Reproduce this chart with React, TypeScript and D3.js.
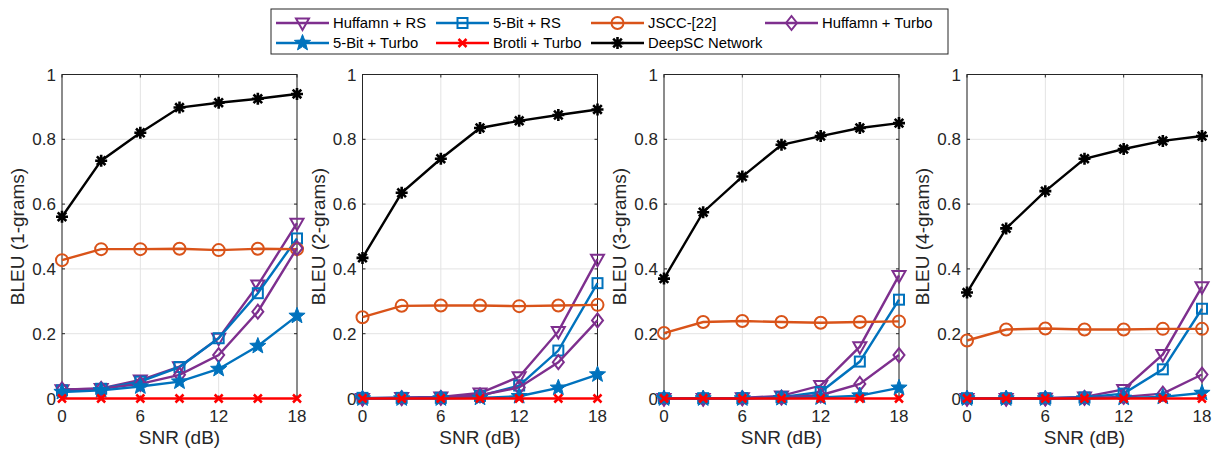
import React from "react";
import * as d3 from "d3";

const snr = [0, 3, 6, 9, 12, 15, 18];
const xTicks = [0, 6, 12, 18];
const yTicks = [0, 0.2, 0.4, 0.6, 0.8, 1];
const yLabels = ["BLEU (1-grams)", "BLEU (2-grams)", "BLEU (3-grams)", "BLEU (4-grams)"];

const seriesNames = ["Huffamn + RS", "5-Bit + RS", "JSCC-[22]", "Huffamn + Turbo", "5-Bit + Turbo", "Brotli + Turbo", "DeepSC Network"];
const seriesColors = ["#7E2F8E", "#0072BD", "#D95319", "#7E2F8E", "#0072BD", "#FF0000", "#000000"];
const seriesMarkers = ["triDown", "square", "circle", "diamond", "star", "x", "asterisk"];

// values per panel: [HuffRS, 5bitRS, JSCC, HuffTurbo, 5bitTurbo, Brotli, DeepSC]
const huffRS = [
  [0.027, 0.031, 0.057, 0.098, 0.186, 0.35, 0.541],
  [0.0, 0.003, 0.005, 0.017, 0.067, 0.207, 0.43],
  [0.0, 0.0, 0.002, 0.008, 0.04, 0.16, 0.38],
  [0.0, 0.0, 0.001, 0.005, 0.028, 0.136, 0.345],
];
const bitRS = [
  [0.025, 0.03, 0.052, 0.097, 0.186, 0.325, 0.494],
  [0.002, 0.002, 0.002, 0.008, 0.04, 0.148, 0.356],
  [0.001, 0.001, 0.001, 0.004, 0.02, 0.114, 0.305],
  [0.001, 0.001, 0.001, 0.003, 0.015, 0.09, 0.277],
];
const jscc = [
  [0.427, 0.461, 0.461, 0.462, 0.458, 0.462, 0.461],
  [0.251, 0.286, 0.287, 0.287, 0.285, 0.287, 0.289],
  [0.202, 0.236, 0.239, 0.236, 0.234, 0.236, 0.238],
  [0.179, 0.213, 0.216, 0.213, 0.213, 0.215, 0.215],
];
const huffTurbo = [
  [0.028, 0.03, 0.045, 0.073, 0.134, 0.268, 0.464],
  [0.0, 0.001, 0.002, 0.01, 0.034, 0.112, 0.241],
  [0.0, 0.0, 0.001, 0.003, 0.01, 0.045, 0.134],
  [0.0, 0.0, 0.0, 0.002, 0.005, 0.015, 0.074],
];
const bitTurbo = [
  [0.02, 0.025, 0.037, 0.052, 0.091, 0.162, 0.255],
  [0.0, 0.0, 0.0, 0.002, 0.007, 0.033, 0.074],
  [0.0, 0.0, 0.0, 0.001, 0.003, 0.009, 0.033],
  [0.0, 0.0, 0.0, 0.0, 0.002, 0.005, 0.017],
];
const brotli = [
  [0, 0, 0, 0, 0, 0, 0],
  [0, 0, 0, 0, 0, 0, 0],
  [0, 0, 0, 0, 0, 0, 0],
  [0, 0, 0, 0, 0, 0, 0],
];
const deepSC = [
  [0.561, 0.734, 0.82, 0.898, 0.913, 0.925, 0.94],
  [0.434, 0.635, 0.74, 0.835, 0.857, 0.875, 0.892],
  [0.37, 0.575, 0.685, 0.783, 0.81, 0.835, 0.85],
  [0.327, 0.525, 0.64, 0.74, 0.77, 0.795, 0.81],
];
const allSeries = [huffRS, bitRS, jscc, huffTurbo, bitTurbo, brotli, deepSC];

const FONT = "'Liberation Sans', Arial, Helvetica, sans-serif";
const TXT = "#262626";

function starPath(ro: number, ri: number) {
  const pts: string[] = [];
  for (let i = 0; i < 10; i++) {
    const r = i % 2 === 0 ? ro : ri;
    const a = -Math.PI / 2 + (i * Math.PI) / 5;
    pts.push(`${(r * Math.cos(a)).toFixed(2)},${(r * Math.sin(a)).toFixed(2)}`);
  }
  return "M" + pts.join("L") + "Z";
}

function Marker({ type, x, y, color }: { type: string; x: number; y: number; color: string }) {
  const sw = 2;
  switch (type) {
    case "triDown":
      return <path d={`M${x - 6.5},${y - 4.5}L${x + 6.5},${y - 4.5}L${x},${y + 7}Z`} fill="none" stroke={color} strokeWidth={sw} />;
    case "square":
      return <rect x={x - 5} y={y - 5} width={10} height={10} fill="none" stroke={color} strokeWidth={sw} />;
    case "circle":
      return <circle cx={x} cy={y} r={6} fill="none" stroke={color} strokeWidth={sw} />;
    case "diamond":
      return <path d={`M${x},${y - 7}L${x + 5.5},${y}L${x},${y + 7}L${x - 5.5},${y}Z`} fill="none" stroke={color} strokeWidth={sw} />;
    case "star":
      return <path d={starPath(8.5, 3.6)} transform={`translate(${x},${y})`} fill={color} stroke={color} strokeWidth={1} />;
    case "x":
      return <path d={`M${x - 4},${y - 4}L${x + 4},${y + 4}M${x - 4},${y + 4}L${x + 4},${y - 4}`} stroke={color} strokeWidth={2.5} />;
    case "asterisk":
      return (
        <g stroke={color} strokeWidth={2.6}>
          <path d={`M${x - 6},${y}L${x + 6},${y}M${x},${y - 6}L${x},${y + 6}M${x - 4.3},${y - 4.3}L${x + 4.3},${y + 4.3}M${x - 4.3},${y + 4.3}L${x + 4.3},${y - 4.3}`} />
        </g>
      );
  }
  return null;
}

const panelLefts = [62, 362.5, 664, 967];
const panelWidth = 235;
const top = 74.5;
const bottom = 398.5;

function Panel({ idx }: { idx: number }) {
  const left = panelLefts[idx];
  const x = d3.scaleLinear().domain([0, 18]).range([left, left + panelWidth]);
  const y = d3.scaleLinear().domain([0, 1]).range([bottom, top]);
  const line = d3.line<number>().x((_, i) => x(snr[i])).y((d) => y(d));
  return (
    <g>
      {xTicks.map((t) => (
        <line key={"gx" + t} x1={x(t)} x2={x(t)} y1={top} y2={bottom} stroke="#e3e3e3" strokeWidth={1} />
      ))}
      {yTicks.map((t) => (
        <line key={"gy" + t} x1={left} x2={left + panelWidth} y1={y(t)} y2={y(t)} stroke="#e3e3e3" strokeWidth={1} />
      ))}
      <rect x={left} y={top} width={panelWidth} height={bottom - top} fill="none" stroke="#262626" strokeWidth={1} />
      {xTicks.map((t) => (
        <g key={"tx" + t}>
          <line x1={x(t)} x2={x(t)} y1={bottom} y2={bottom - 3} stroke="#262626" />
          <line x1={x(t)} x2={x(t)} y1={top} y2={top + 3} stroke="#262626" />
          <text x={x(t)} y={422} textAnchor="middle" fontSize={17} fontFamily={FONT} fill={TXT}>{t}</text>
        </g>
      ))}
      {yTicks.map((t) => (
        <g key={"ty" + t}>
          <line x1={left} x2={left + 3} y1={y(t)} y2={y(t)} stroke="#262626" />
          <line x1={left + panelWidth} x2={left + panelWidth - 3} y1={y(t)} y2={y(t)} stroke="#262626" />
          <text x={left - 6} y={y(t) + 6} textAnchor="end" fontSize={17} fontFamily={FONT} fill={TXT}>{d3.format("~g")(t)}</text>
        </g>
      ))}
      <text x={left + panelWidth / 2} y={444} textAnchor="middle" fontSize={19} fontFamily={FONT} fill={TXT}>SNR (dB)</text>
      <text transform={`translate(${left - 38},${(top + bottom) / 2}) rotate(-90)`} textAnchor="middle" fontSize={19} fontFamily={FONT} fill={TXT}>{yLabels[idx]}</text>
      {allSeries.map((s, si) => (
        <g key={"s" + si}>
          <path d={line(s[idx]) || ""} fill="none" stroke={seriesColors[si]} strokeWidth={2.4} />
          {s[idx].map((v, i) => (
            <Marker key={i} type={seriesMarkers[si]} x={x(snr[i])} y={y(v)} color={seriesColors[si]} />
          ))}
        </g>
      ))}
    </g>
  );
}

const legendCols = [276, 436, 591, 765];
const legendRows = [23, 43];

function Legend() {
  return (
    <g>
      <rect x={271} y={9} width={677} height={45} fill="#fff" stroke="#262626" strokeWidth={1} />
      {seriesNames.map((name, i) => {
        const col = i % 4;
        const row = Math.floor(i / 4);
        const lx = legendCols[col];
        const ly = legendRows[row];
        return (
          <g key={name}>
            <line x1={lx} x2={lx + 53} y1={ly} y2={ly} stroke={seriesColors[i]} strokeWidth={2.4} />
            <Marker type={seriesMarkers[i]} x={lx + 26.5} y={ly} color={seriesColors[i]} />
            <text x={lx + 57} y={ly + 5} fontSize={14.8} fontFamily={FONT} fill="#000">{name}</text>
          </g>
        );
      })}
    </g>
  );
}

export default function App() {
  return (
    <svg width={1219} height={455} style={{ position: "absolute", left: 0, top: 0, background: "#fff" }}>
      <rect width={1219} height={455} fill="#fff" />
      {[0, 1, 2, 3].map((i) => (
        <Panel key={i} idx={i} />
      ))}
      <Legend />
    </svg>
  );
}
